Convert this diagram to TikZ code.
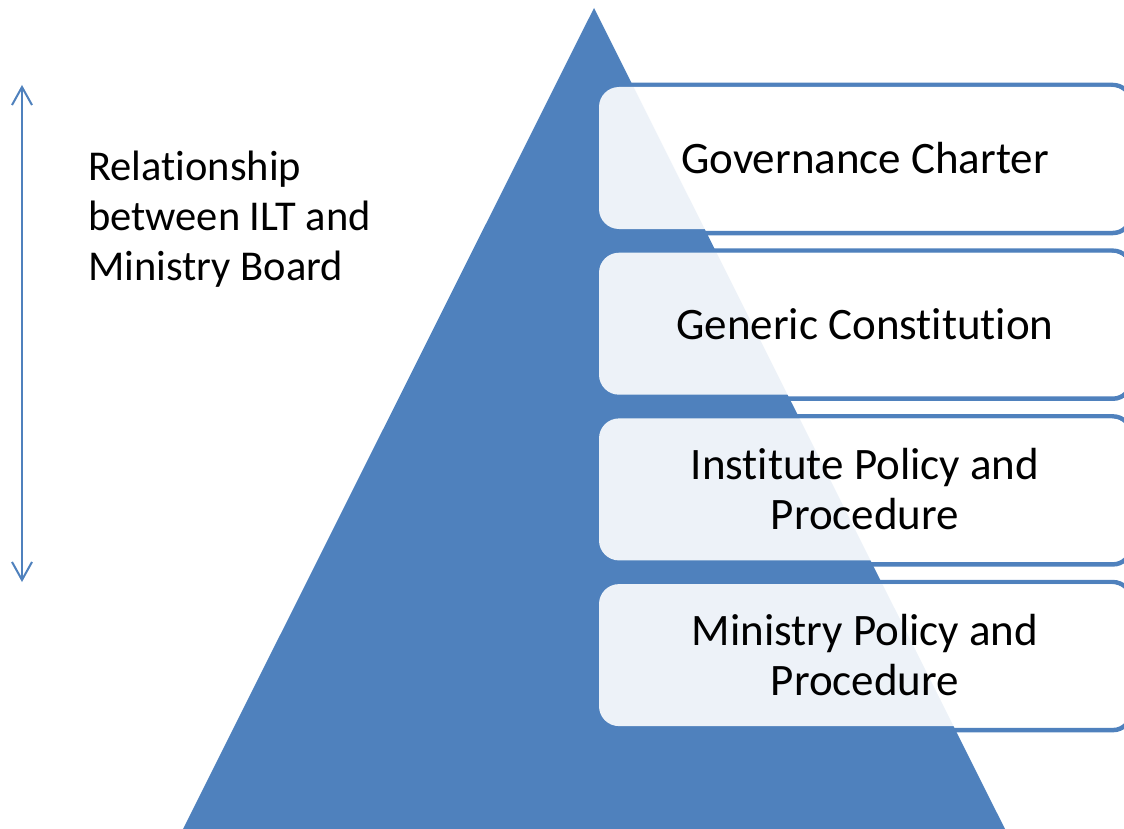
\documentclass[tikz,border=0pt]{standalone}
\usepackage{fontspec}
\setmainfont{Carlito}[Ligatures={NoCommon}]
\usetikzlibrary{arrows.meta}
\definecolor{pyblue}{HTML}{4F81BD}
\begin{document}
\begin{tikzpicture}[x=1pt,y=-1pt,
  backbox/.style={draw=pyblue, line width=4.5pt, fill=white, rounded corners=18pt,
    minimum width=534pt, minimum height=148pt, inner sep=0pt},
  frontbox/.style={fill=white, fill opacity=0.9, text opacity=1, rounded corners=20pt,
    minimum width=532pt, minimum height=142pt, inner sep=0pt, align=center,
    font=\fontsize{45}{50}\selectfont},
  lbl/.style={align=left, inner sep=0pt, font=\fontsize{42.5}{50}\selectfont}]
\useasboundingbox (0,0) rectangle (1124,829);
\clip (0,0) rectangle (1124,829);
% back outlined boxes
\foreach \i in {0,1,2,3}{
  \node[backbox] (b\i) at (864,{159+165.7*\i}) {};
}
% pyramid
\fill[pyblue] (594,8) -- (1005,829) -- (183,829) -- cycle;
% front boxes
\node[frontbox] (f0) at (865,158) {Governance Charter};
\node[frontbox] (f1) at (865,323.7) {Generic Constitution};
\node[frontbox] (f2) at (865,489.4) {Institute Policy and\\Procedure};
\node[frontbox] (f3) at (865,655.1) {Ministry Policy and\\Procedure};
% left label and arrow
\node[lbl, anchor=west] (rel) at (88,219) {Relationship\\between ILT and\\Ministry Board};
\coordinate (atop) at (22,85);
\coordinate (abot) at (22,582);
\draw[pyblue, line width=2pt, {Straight Barb[length=18pt,width=20pt,line width=2pt]}-{Straight Barb[length=18pt,width=20pt,line width=2pt]}] (atop) -- (abot);
\end{tikzpicture}
\end{document}
